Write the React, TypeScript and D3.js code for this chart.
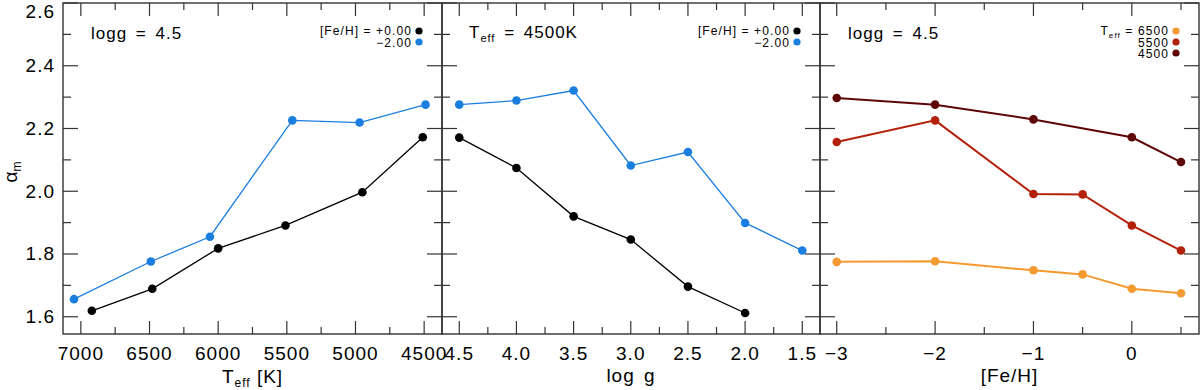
import React from 'react';
import * as d3 from 'd3';

// alpha_m (mixing length) vs stellar parameters
const teffSolar = [6920, 6480, 6000, 5510, 4950, 4510];
const alphaTeffSolar = [1.619, 1.689, 1.818, 1.891, 1.997, 2.172];
const teffPoor = [7050, 6490, 6060, 5460, 4970, 4490];
const alphaTeffPoor = [1.656, 1.776, 1.855, 2.226, 2.219, 2.276];

const loggSolar = [4.5, 4.0, 3.5, 3.0, 2.5, 2.0];
const alphaLoggSolar = [2.171, 2.074, 1.920, 1.846, 1.696, 1.612];
const loggPoor = [4.5, 4.0, 3.5, 3.0, 2.5, 2.0, 1.5];
const alphaLoggPoor = [2.276, 2.289, 2.321, 2.082, 2.125, 1.899, 1.811];

const feh4500 = [-3, -2, -1, 0, 0.5];
const alphaFeh4500 = [2.297, 2.276, 2.229, 2.172, 2.093];
const feh5500 = [-3, -2, -1, -0.5, 0, 0.5];
const alphaFeh5500 = [2.157, 2.226, 1.991, 1.990, 1.891, 1.811];
const feh6500 = [-3, -2, -1, -0.5, 0, 0.5];
const alphaFeh6500 = [1.775, 1.777, 1.748, 1.735, 1.689, 1.675];

const yTicks = [1.6, 1.8, 2.0, 2.2, 2.4, 2.6];
const teffTicks = [7000, 6500, 6000, 5500, 5000, 4500];
const loggTicks = [4.5, 4.0, 3.5, 3.0, 2.5, 2.0, 1.5];
const fehTicks = [-3, -2, -1, 0];

const BLUE = '#1a7ee0';
const FONT = "'Liberation Sans', Arial, Helvetica, sans-serif";
const FRAME = '#333';

const y = d3.scaleLinear().domain([1.545, 2.6]).range([334, 3]);
const yMinor = d3.range(1.7, 2.6, 0.2);

const panels = [
  {
    x0: 63, x1: 442, domain: [7130, 4370], majors: teffTicks,
    minors: d3.range(6750, 4370, -500), fmt: (v) => String(v),
    series: [
      { xs: teffSolar, ys: alphaTeffSolar, color: '#000', w: 1.3 },
      { xs: teffPoor, ys: alphaTeffPoor, color: BLUE, w: 1.3 },
    ],
  },
  {
    x0: 442, x1: 820, domain: [4.651, 1.345], majors: loggTicks,
    minors: d3.range(4.25, 1.3, -0.5), fmt: (v) => v.toFixed(1),
    series: [
      { xs: loggSolar, ys: alphaLoggSolar, color: '#000', w: 1.3 },
      { xs: loggPoor, ys: alphaLoggPoor, color: BLUE, w: 1.3 },
    ],
  },
  {
    x0: 820, x1: 1199, domain: [-3.17, 0.683], majors: fehTicks,
    minors: d3.range(-2.5, 0.6, 1), fmt: (v) => (v < 0 ? '\u2212' + Math.abs(v) : String(v)),
    series: [
      { xs: feh6500, ys: alphaFeh6500, color: '#f49a30', w: 2 },
      { xs: feh5500, ys: alphaFeh5500, color: '#b4210a', w: 2 },
      { xs: feh4500, ys: alphaFeh4500, color: '#5e0606', w: 2 },
    ],
  },
];

function Eff({ size }) {
  return (
    <tspan fontSize={size} dy={4}>eff</tspan>
  );
}

function Panel({ p }) {
  const x = d3.scaleLinear().domain(p.domain).range([p.x0, p.x1]);
  const top = y.range()[1];
  const bot = y.range()[0];
  const line = d3.line().x((d) => x(d[0])).y((d) => y(d[1]));
  const tk = { stroke: FRAME, strokeWidth: 1.2 };
  return (
    <g>
      {p.majors.map((v) => (
        <g key={'M' + v}>
          <line x1={x(v)} x2={x(v)} y1={bot} y2={bot - 13} {...tk} />
          <line x1={x(v)} x2={x(v)} y1={top} y2={top + 13} {...tk} />
          <text x={x(v)} y={360} textAnchor="middle" fontSize={19} letterSpacing={1}>{p.fmt(v)}</text>
        </g>
      ))}
      {p.minors.map((v) => (
        <g key={'m' + v}>
          <line x1={x(v)} x2={x(v)} y1={bot} y2={bot - 7} {...tk} />
          <line x1={x(v)} x2={x(v)} y1={top} y2={top + 7} {...tk} />
        </g>
      ))}
      {yTicks.map((v) => (
        <g key={'yM' + v}>
          <line x1={p.x0} x2={p.x0 + 15} y1={y(v)} y2={y(v)} {...tk} />
          <line x1={p.x1} x2={p.x1 - 15} y1={y(v)} y2={y(v)} {...tk} />
        </g>
      ))}
      {yMinor.map((v) => (
        <g key={'ym' + v}>
          <line x1={p.x0} x2={p.x0 + 8} y1={y(v)} y2={y(v)} {...tk} />
          <line x1={p.x1} x2={p.x1 - 8} y1={y(v)} y2={y(v)} {...tk} />
        </g>
      ))}
      <rect x={p.x0} y={top} width={p.x1 - p.x0} height={bot - top} fill="none" stroke={FRAME} strokeWidth={1.4} />
      {p.series.map((s, i) => {
        const pts = s.xs.map((v, j) => [v, s.ys[j]]);
        return (
          <g key={i}>
            <path d={line(pts)} fill="none" stroke={s.color} strokeWidth={s.w} />
            {pts.map((d, j) => (
              <circle key={j} cx={x(d[0])} cy={y(d[1])} r={4.3} fill={s.color} />
            ))}
          </g>
        );
      })}
    </g>
  );
}

export default function App() {
  const [pT, pG, pF] = panels;
  const legendFeh = (p) => (
    <g fontSize={12} letterSpacing={1.1}>
      <text textAnchor="end">
        <tspan x={p.x1 - 30} y={35}>[Fe/H] = +0.00</tspan>
        <tspan x={p.x1 - 30} y={46.5}>{'\u2212'}2.00</tspan>
      </text>
      <circle cx={p.x1 - 23} cy={31} r={3.6} fill="#000" />
      <circle cx={p.x1 - 23} cy={42} r={3.6} fill={BLUE} />
    </g>
  );
  return (
    <svg width={1200} height={390} style={{ position: 'absolute', left: 0, top: 0 }} fontFamily={FONT} fill="#000">
      <rect width={1200} height={390} fill="#fff" />
      {panels.map((p, i) => <Panel key={i} p={p} />)}
      {yTicks.map((v) => (
        <text key={v} x={55} y={Math.max(y(v), 11) + 6.5} textAnchor="end" fontSize={19} letterSpacing={1}>{v.toFixed(1)}</text>
      ))}
      <text transform="translate(17,172) rotate(-90)" textAnchor="middle" fontSize={19}>
        {'\u03b1'}<tspan fontSize={12} dy={4}>m</tspan>
      </text>

      <text x={(pT.x0 + pT.x1) / 2} y={383} textAnchor="middle" fontSize={19} letterSpacing={1}>
        T<Eff size={12} /><tspan dy={-4}>  [K]</tspan>
      </text>
      <text x={(pG.x0 + pG.x1) / 2} y={382} textAnchor="middle" fontSize={19} letterSpacing={1} wordSpacing={3}>log g</text>
      <text x={(pF.x0 + pF.x1) / 2} y={382} textAnchor="middle" fontSize={19} letterSpacing={1}>[Fe/H]</text>

      <text x={pT.x0 + 28} y={39} fontSize={17} letterSpacing={1} wordSpacing={3}>logg = 4.5</text>
      <text x={pG.x0 + 27} y={38} fontSize={17} letterSpacing={1} wordSpacing={3}>
        T<Eff size={11} /><tspan dy={-4}> = 4500K</tspan>
      </text>
      <text x={pF.x0 + 28} y={39} fontSize={17} letterSpacing={1} wordSpacing={3}>logg = 4.5</text>

      {legendFeh(pT)}
      {legendFeh(pG)}
      <g fontSize={12} letterSpacing={1.1}>
        <text textAnchor="end">
          <tspan x={pF.x1 - 30} y={35}>
            T<tspan fontSize={8} dy={3}>eff</tspan><tspan dy={-3}> = 6500</tspan>
          </tspan>
          <tspan x={pF.x1 - 30} y={46.5}>5500</tspan>
          <tspan x={pF.x1 - 30} y={58}>4500</tspan>
        </text>
        <circle cx={pF.x1 - 23} cy={31} r={3.6} fill="#f49a30" />
        <circle cx={pF.x1 - 23} cy={42} r={3.6} fill="#b4210a" />
        <circle cx={pF.x1 - 23} cy={53} r={3.6} fill="#5e0606" />
      </g>
    </svg>
  );
}
